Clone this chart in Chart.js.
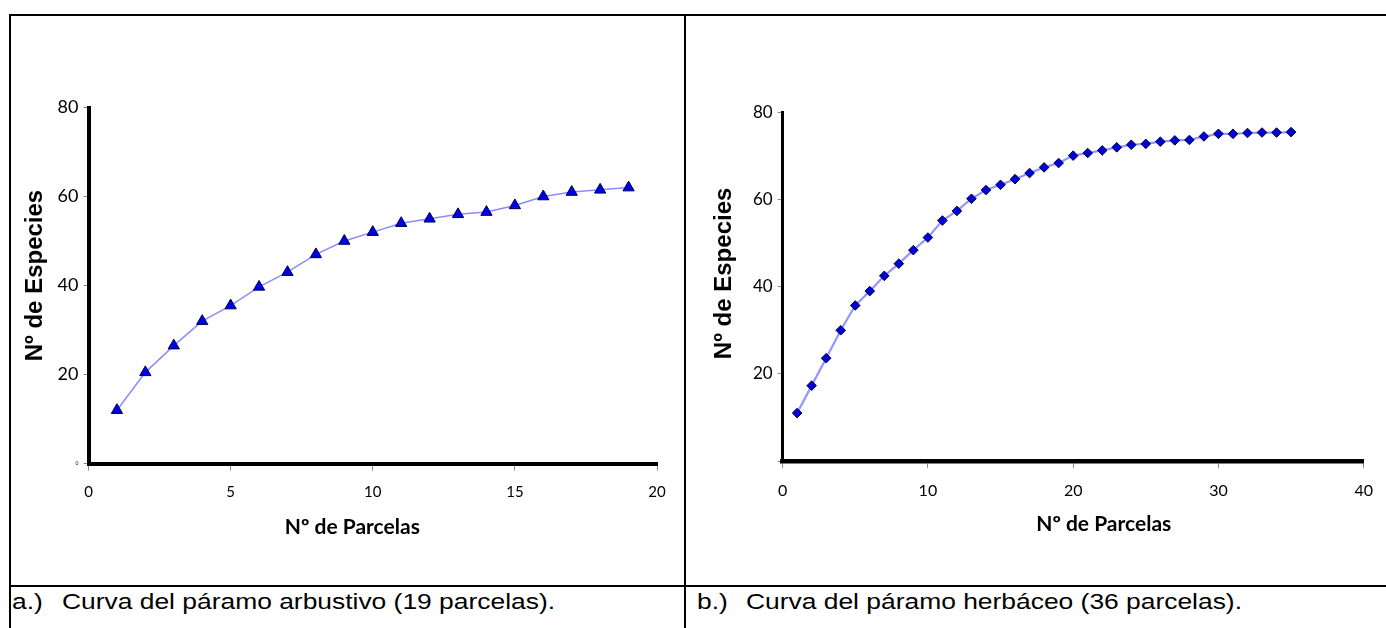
<!DOCTYPE html>
<html><head><meta charset="utf-8">
<script src="https://cdn.jsdelivr.net/npm/chart.js@4.4.1/dist/chart.umd.min.js"></script>
<style>
html,body{margin:0;padding:0;background:#fff;}
body{width:1386px;height:628px;overflow:hidden;position:relative;}
.ln{position:absolute;background:#000;}
.cv{position:absolute;}
.cap{position:absolute;top:590.7px;font-family:"Liberation Sans",Arial,sans-serif;font-size:22px;line-height:22px;white-space:nowrap;color:#000;transform:scaleX(1.2);transform-origin:0 0;}
</style></head><body>
<div class="ln" style="left:9px;top:14px;width:1377px;height:2px"></div>
<div class="ln" style="left:9px;top:14px;width:2px;height:614px"></div>
<div class="ln" style="left:684px;top:14px;width:2px;height:614px"></div>
<div class="ln" style="left:9px;top:585px;width:1377px;height:2px"></div>
<div class="cv" style="left:11px;top:17px;width:672px;height:567px"><canvas id="cA" width="672" height="567" style="width:672px;height:567px"></canvas></div>
<div class="cv" style="left:687px;top:17px;width:699px;height:568px"><canvas id="cB" width="699" height="568" style="width:699px;height:568px"></canvas></div>
<div class="cap" style="left:12px">a.)</div>
<div class="cap" style="left:62px">Curva del páramo arbustivo (19 parcelas).</div>
<div class="cap" style="left:697px">b.)</div>
<div class="cap" style="left:746px">Curva del páramo herbáceo (36 parcelas).</div>
<script>
// ---- data ----
const plotsA = [1,2,3,4,5,6,7,8,9,10,11,12,13,14,15,16,17,18,19];
const speciesA = [12,20.5,26.5,32,35.5,39.7,43,47,50,52,54,55,56,56.5,58,60,61,61.5,62];
const plotsB = [1,2,3,4,5,6,7,8,9,10,11,12,13,14,15,16,17,18,19,20,21,22,23,24,25,26,27,28,29,30,31,32,33,34,35];
const speciesB = [11,17.3,23.6,30,35.7,39,42.5,45.3,48.4,51.3,55.2,57.4,60.2,62.2,63.4,64.7,66.1,67.4,68.4,70.1,70.7,71.3,72,72.6,72.8,73.3,73.6,73.7,74.5,75.1,75.1,75.3,75.4,75.4,75.5];
const xTicksA = [0,5,10,15,20];
const xTicksB = [0,10,20,30,40];
const yTicks = [0,20,40,60,80];
const xTitle = "Nº de Parcelas";
const yTitle = "Nº de Especies";

Chart.defaults.color = '#000';
Chart.defaults.animation = false;

const tickFam = 'Lato, "Open Sans", sans-serif';
const titleFam = '"Liberation Sans", Arial, sans-serif';

function pts(xs, ys){ return xs.map((x,i)=>({x:x, y:ys[i]})); }

function makeChart(id, cfg){
  return new Chart(document.getElementById(id), {
    type: 'line',
    data: { datasets: [{
      data: pts(cfg.xs, cfg.ys),
      borderColor: cfg.lineColor,
      borderWidth: cfg.lineWidth,
      pointStyle: cfg.pointStyle,
      pointRadius: cfg.pointRadius,
      pointBackgroundColor: cfg.pointFill,
      pointBorderColor: cfg.pointBorder,
      pointBorderWidth: 1,
      tension: 0,
      fill: false
    }]},
    options: {
      responsive: false,
      animation: false,
      layout: { padding: cfg.padding },
      plugins: { legend: {display:false}, tooltip: {enabled:false} },
      scales: {
        x: {
          type: 'linear', min: cfg.xTicks[0], max: cfg.xTicks[cfg.xTicks.length-1],
          afterFit: s => { s.height = cfg.xHeight; },
          afterBuildTicks: s => { s.ticks = cfg.xTicks.map(v=>({value:v})); },
          border: { display:true, color:'#000', width: cfg.xBorder },
          grid: { display:true, drawOnChartArea:false, drawTicks:true, tickLength:7, color:'#8a8a8a', lineWidth:1 },
          ticks: { padding: 13, font: { family: tickFam, size: cfg.xTickSize }, maxRotation:0, autoSkip:false },
          title: { display:true, text: cfg.xTitleText, padding:{top:4,bottom:4},
                   font: { family: 'Lato, sans-serif', size: 21, weight: 'bold' } }
        },
        y: {
          type: 'linear', min: 0, max: 80,
          afterFit: s => { s.width = cfg.yWidth; },
          afterBuildTicks: s => { s.ticks = yTicks.map(v=>({value:v})); },
          border: { display:true, color:'#000', width: cfg.yBorder },
          grid: { display:true, drawOnChartArea:false, drawTicks:true, tickLength:5, color:'#8a8a8a', lineWidth:1 },
          ticks: { padding: 5, autoSkip:false,
                   callback: cfg.yCallback,
                   font: c => (c.tick && c.tick.value === 0) ? {family: tickFam, size: 5} : {family: tickFam, size: cfg.yTickSize} },
          title: { display:true, text: cfg.yTitleText, padding:{top:4,bottom:4},
                   font: { family: titleFam, size: 24, weight: 'bold' } }
        }
      }
    }
  });
}

makeChart('cA', {
  xs: plotsA, ys: speciesA, xTicks: xTicksA,
  lineColor: '#8c8cff', lineWidth: 1.5,
  pointStyle: 'triangle', pointRadius: 6.5, pointFill: '#0000e6', pointBorder: '#00004d',
  padding: { left: 5.5, right: 26, top: 90.5, bottom: 40.4 },
  xHeight: 80, yWidth: 72, xBorder: 4, yBorder: 4,
  xTickSize: 15, yTickSize: 18,
  xTitleText: xTitle + "        ",
  yTitleText: "   " + yTitle,
  yCallback: v => String(v)
});

makeChart('cB', {
  xs: plotsB, ys: speciesB, xTicks: xTicksB,
  lineColor: 'rgba(130,130,255,0.85)', lineWidth: 2.2,
  pointStyle: 'rectRot', pointRadius: 4.8, pointFill: '#0000dd', pointBorder: '#000033',
  padding: { left: 18.6, right: 17, top: 95.5, bottom: 44.4 },
  xHeight: 79.6, yWidth: 77, xBorder: 4.5, yBorder: 3,
  xTickSize: 16, yTickSize: 17,
  xTitleText: "            " + xTitle,
  yTitleText: "    " + yTitle,
  yCallback: v => v === 0 ? '' : String(v)
});
</script>
</body></html>
